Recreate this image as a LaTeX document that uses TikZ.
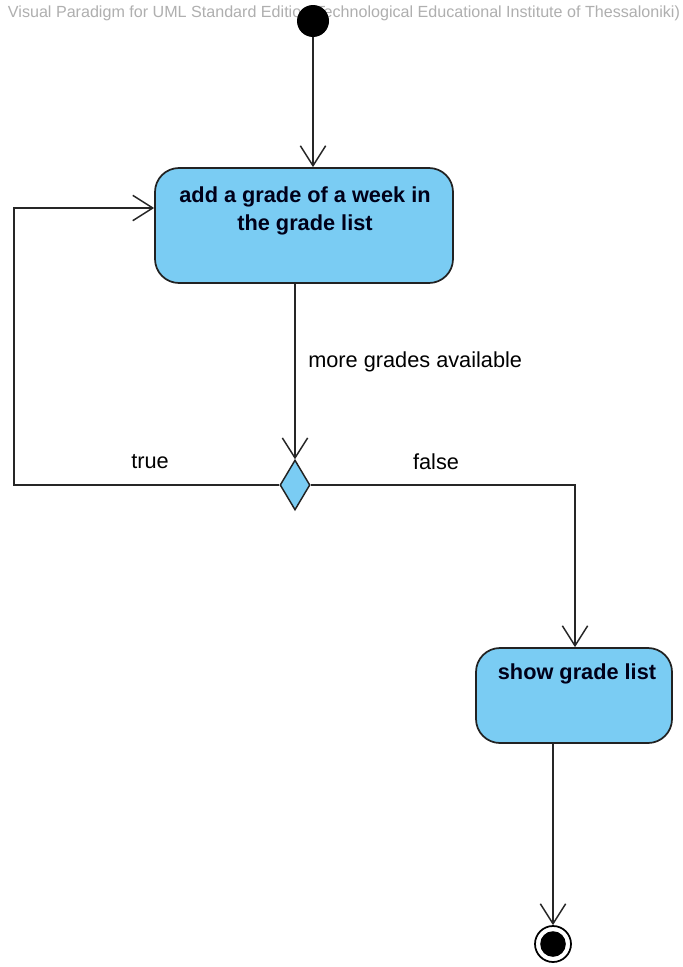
\documentclass[tikz,border=0pt]{standalone}
\usepackage{fontspec}
\setmainfont{Liberation Sans}
\usetikzlibrary{arrows.meta,shapes.geometric}
\definecolor{actfill}{RGB}{122,204,243}
\definecolor{edgecol}{RGB}{34,34,34}
\definecolor{wm}{RGB}{175,175,175}
\begin{document}
\begin{tikzpicture}[x=0.75pt,y=-0.75pt,
  actbox/.style={draw=edgecol, line width=1.3pt, fill=actfill, rounded corners=18pt, inner sep=0pt},
  acttext/.style={font=\bfseries\fontsize{16.3}{21}\selectfont, align=center, inner sep=0pt, text=black!90!blue},
  decbox/.style={diamond, draw=edgecol, line width=1.1pt, fill=actfill, inner sep=0pt, minimum width=22.5pt, minimum height=37.5pt},
  flow/.style={draw=black!85, line width=1.1pt, -{Straight Barb[length=15pt,width=19pt,line width=1.1pt]}},
  guard/.style={font=\fontsize{16.3}{20}\selectfont, inner sep=0pt}
]
\useasboundingbox (0,0) rectangle (682,967);
\fill[white] (0,0) rectangle (682,967);

% watermark
\node[text=wm, inner sep=0pt] (wmark) at (344,13) {\resizebox{504pt}{!}{Visual Paradigm for UML Standard Edition(Technological Educational Institute of Thessaloniki)}};

% initial node
\node[circle, fill=black, minimum size=24pt, inner sep=0pt] (init) at (313,21) {};

% action 1
\node[actbox, minimum width=223.5pt, minimum height=86.25pt] (a1) at (304,225.5) {};
\node[acttext, anchor=north] (a1t) at (305,186) {add a grade of a week in\\the grade list};

% decision
\node[decbox] (dec) at (295,485) {};

% action 2
\node[actbox, minimum width=147pt, minimum height=71.25pt] (a2) at (574,695.5) {};
\node[acttext, anchor=north] (a2t) at (577,663) {show grade list};

% final node
\node[circle, draw=black, line width=1.3pt, minimum size=27pt, inner sep=0pt] (fin) at (553,944) {};
\fill[black] (fin.center) circle (9.6pt);

% connectors
\draw[flow] (init) -- (init |- a1.north);
\draw[flow] (dec |- a1.south) -- (dec.north);
\coordinate (loopc) at (14,208);
\draw[flow] (dec.west) -| (loopc) -- (a1.west |- loopc);
\coordinate (falsec) at (575,485);
\draw[flow] (dec.east) -- (falsec) -- (falsec |- a2.north);
\draw[flow] (fin |- a2.south) -- (fin.north);

% guards
\node[guard, anchor=west] (gmore) at (308,362) {more grades available};
\node[guard] (gtrue) at (150,462) {true};
\node[guard] (gfalse) at (436,462) {false};
\end{tikzpicture}
\end{document}
